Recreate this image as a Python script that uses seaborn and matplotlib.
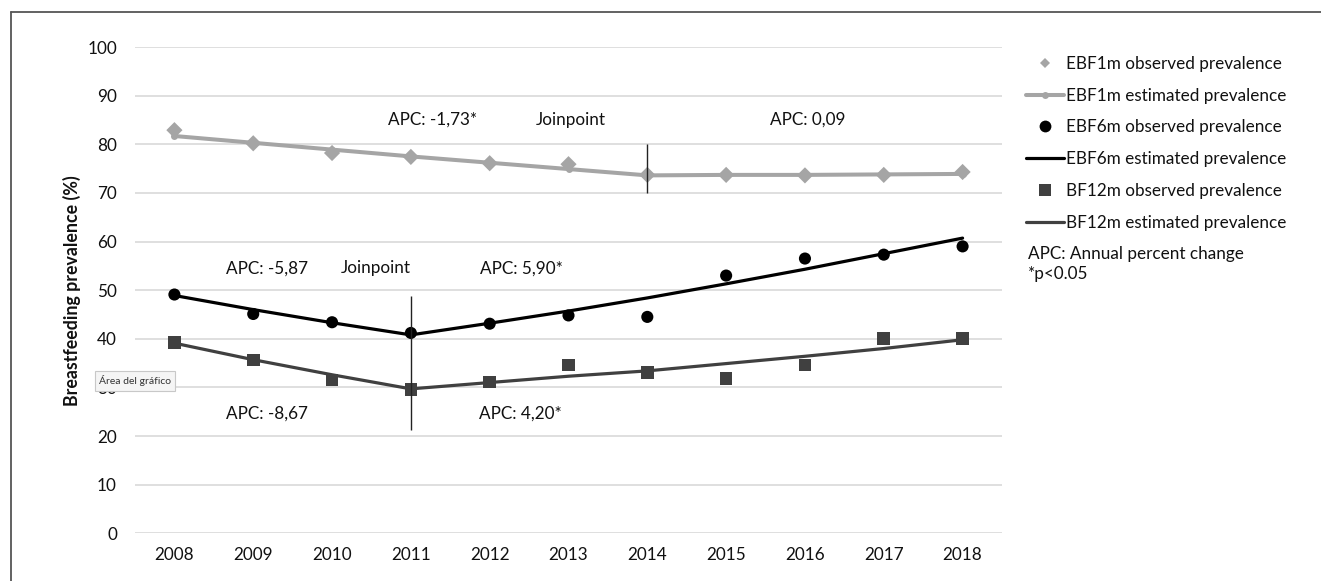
import matplotlib
matplotlib.use("Agg")
import matplotlib.pyplot as plt
from matplotlib.lines import Line2D
import seaborn as sns
import pandas as pd

# ---- data ----
years = [2008, 2009, 2010, 2011, 2012, 2013, 2014, 2015, 2016, 2017, 2018]
ebf1m_obs = [82.9, 80.2, 78.2, 77.4, 76.1, 75.9, 73.7, 73.7, 73.6, 73.7, 74.3]
ebf1m_est = [81.7, 80.3, 78.9, 77.5, 76.2, 74.9, 73.6, 73.7, 73.7, 73.8, 73.9]
ebf6m_obs = [49.1, 45.1, 43.4, 41.2, 43.1, 44.8, 44.5, 53.0, 56.5, 57.3, 59.0]
ebf6m_est = [48.9, 46.0, 43.3, 40.8, 43.2, 45.7, 48.4, 51.3, 54.3, 57.5, 60.7]
bf12m_obs = [39.2, 35.6, 31.5, 29.6, 31.1, 34.6, 33.1, 31.8, 34.6, 40.1, 40.1]
bf12m_est = [39.1, 35.7, 32.6, 29.7, 31.0, 32.3, 33.4, 34.9, 36.4, 38.0, 39.8]
yticks = [0, 10, 20, 30, 40, 50, 60, 70, 80, 90, 100]

labels = ["EBF1m observed prevalence", "EBF1m estimated prevalence",
          "EBF6m observed prevalence", "EBF6m estimated prevalence",
          "BF12m observed prevalence", "BF12m estimated prevalence"]

annotations = [
    ("APC: -1,73*", 2011.28, 85.0),
    ("Joinpoint", 2013.03, 85.0),
    ("APC: 0,09", 2016.03, 85.0),
    ("APC: -5,87", 2009.18, 54.5),
    ("Joinpoint", 2010.56, 54.5),
    ("APC: 5,90*", 2012.40, 54.5),
    ("APC: -8,67", 2009.18, 24.7),
    ("APC: 4,20*", 2012.39, 24.7),
]
joinpoints = [(2014, 70, 80), (2011, 21.2, 48.7)]

df = pd.DataFrame({"year": years,
                   "ebf1m_obs": ebf1m_obs, "ebf1m_est": ebf1m_est,
                   "ebf6m_obs": ebf6m_obs, "ebf6m_est": ebf6m_est,
                   "bf12m_obs": bf12m_obs, "bf12m_est": bf12m_est})

sns.set_style("white")
plt.rcParams["font.family"] = ["Lato", "DejaVu Sans"]

W, H = 1321, 581
fig = plt.figure(figsize=(W / 100, H / 100), dpi=100)
ax = fig.add_axes([135 / W, (H - 533.3) / H, (1002 - 135) / W, (533.3 - 47.0) / H])

c1 = "#A5A5A5"
c6 = "#000000"
c12 = "#404040"
tc = "#111111"

# EBF1m
sns.scatterplot(data=df, x="year", y="ebf1m_obs", ax=ax, marker="D", s=68,
                color=c1, edgecolor="none", zorder=3)
sns.lineplot(data=df, x="year", y="ebf1m_est", ax=ax, color=c1, linewidth=2.9,
             marker="o", markersize=5, markeredgewidth=0, zorder=4)
# EBF6m
sns.scatterplot(data=df, x="year", y="ebf6m_obs", ax=ax, marker="o", s=76,
                color=c6, edgecolor="none", zorder=5)
sns.lineplot(data=df, x="year", y="ebf6m_est", ax=ax, color=c6, linewidth=2.3, zorder=6)
# BF12m
sns.scatterplot(data=df, x="year", y="bf12m_obs", ax=ax, marker="s", s=82,
                color=c12, edgecolor="none", zorder=7)
sns.lineplot(data=df, x="year", y="bf12m_est", ax=ax, color=c12, linewidth=2.3, zorder=8)

# joinpoint markers
for x, y0, y1 in joinpoints:
    ax.vlines(x, y0, y1, color="#222222", linewidth=1.0, zorder=9)

for txt, x, y in annotations:
    ax.text(x, y, txt, ha="center", va="center", fontsize=12.3, color=tc)

ax.set_xlim(2007.5, 2018.5)
ax.set_ylim(0, 100)
ax.set_xticks(years)
ax.set_xticklabels([str(y) for y in years])
ax.set_yticks(yticks)
ax.grid(axis="y", color="#D9D9D9", linewidth=1.2, zorder=0)
ax.set_axisbelow(True)
for s in ax.spines.values():
    s.set_visible(False)
ax.tick_params(axis="both", length=0, labelsize=12.3, colors=tc)
ax.tick_params(axis="y", pad=13)
ax.tick_params(axis="x", pad=10)
ax.set_xlabel("")
ax.set_ylabel("Breastfeeding prevalence (%)", fontsize=12.8, fontweight="bold",
              color=tc, labelpad=4.5)

# legend
handles = [
    Line2D([], [], linestyle="none", marker="D", markersize=5.5, color=c1, markeredgewidth=0),
    Line2D([], [], color=c1, linewidth=2.9, marker="o", markersize=5, markeredgewidth=0),
    Line2D([], [], linestyle="none", marker="o", markersize=8.5, color=c6, markeredgewidth=0),
    Line2D([], [], color=c6, linewidth=2.3),
    Line2D([], [], linestyle="none", marker="s", markersize=8, color=c12, markeredgewidth=0),
    Line2D([], [], color=c12, linewidth=2.3),
]
fig.legend(handles, labels, loc="upper left", bbox_to_anchor=(1026 / W, 1 - 56 / H),
           frameon=False, fontsize=12.3, handlelength=2.25, handletextpad=0.1,
           labelspacing=0.92, borderpad=0, borderaxespad=0, labelcolor=tc)
fig.text(1028 / W, 1 - 254 / H, "APC: Annual percent change", fontsize=12.3,
         va="center", ha="left", color=tc)
fig.text(1028 / W, 1 - 274 / H, "*p<0.05", fontsize=12.3, va="center", ha="left",
         color=tc)

# tooltip from the screenshot
fig.text(99 / W, 1 - 381 / H, "Área del gráfico", fontsize=7.5, va="center", ha="left",
         color="#333333",
         bbox=dict(boxstyle="square,pad=0.4", facecolor="#F5F5F5", edgecolor="#C8C8C8",
                   linewidth=0.8), zorder=20)

# frame (cropped chart border: left and top)
fig.add_artist(Line2D([11 / W, 11 / W], [0, 1 - 12 / H], color="#555555", linewidth=1.3))
fig.add_artist(Line2D([11 / W, 1], [1 - 12 / H, 1 - 12 / H], color="#555555", linewidth=1.3))

fig.savefig("out.png", dpi=100)
